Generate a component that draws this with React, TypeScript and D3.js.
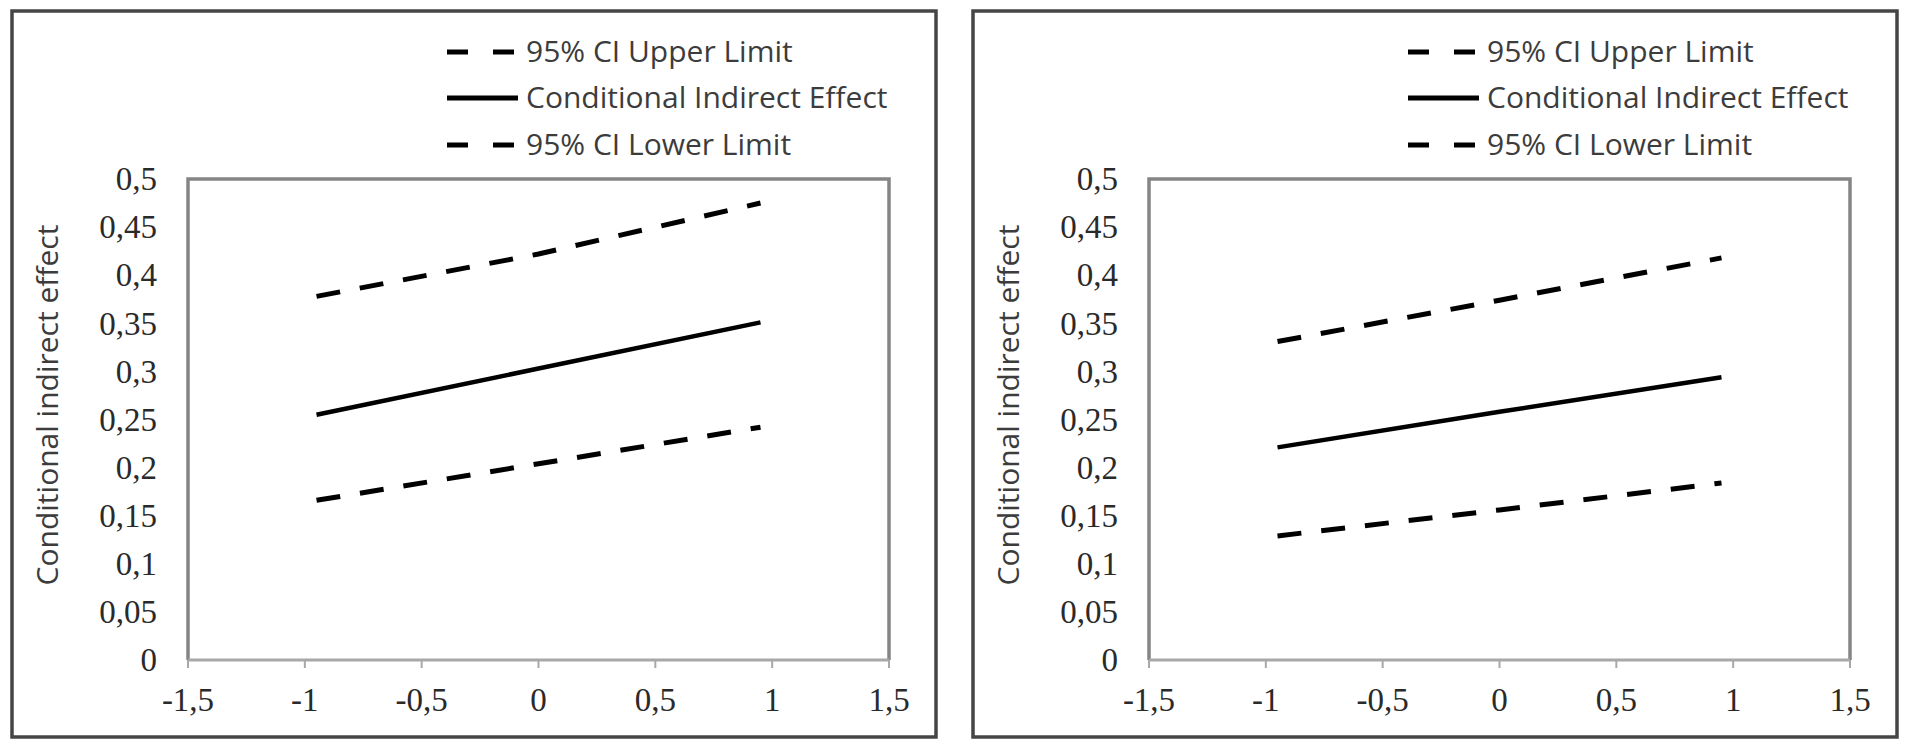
import * as d3 from 'd3';
import { FC } from 'react';

// x positions of the moderator (-1 SD, mean, +1 SD)
const moderatorValues = [-0.95, 0, 0.95];

const leftUpper = [0.378, 0.422, 0.475];
const leftEffect = [0.255, 0.303, 0.351];
const leftLower = [0.166, 0.204, 0.242];

const rightUpper = [0.331, 0.374, 0.418];
const rightEffect = [0.221, 0.258, 0.294];
const rightLower = [0.129, 0.156, 0.184];

const xTicks = [-1.5, -1, -0.5, 0, 0.5, 1, 1.5];
const xTickLabels = ['-1,5', '-1', '-0,5', '0', '0,5', '1', '1,5'];
const yTicks = [0, 0.05, 0.1, 0.15, 0.2, 0.25, 0.3, 0.35, 0.4, 0.45, 0.5];
const yTickLabels = ['0', '0,05', '0,1', '0,15', '0,2', '0,25', '0,3', '0,35', '0,4', '0,45', '0,5'];

const legendLabels = ['95% CI Upper Limit', 'Conditional Indirect Effect', '95% CI Lower Limit'];
const yTitle = 'Conditional indirect effect';

const DASH = '24 20';
const SANS = '"Open Sans", "Noto Sans", sans-serif';
const SERIF = '"Liberation Serif", "DejaVu Serif", serif';

type PanelProps = {
  offsetX: number;
  upper: number[];
  effect: number[];
  lower: number[];
};

const Panel: FC<PanelProps> = ({ offsetX, upper, effect, lower }) => {
  const x = d3.scaleLinear().domain([-1.5, 1.5]).range([188, 889]);
  const y = d3.scaleLinear().domain([0, 0.5]).range([660, 179]);

  const line = (vals: number[]) =>
    d3
      .line<number>()
      .x((_, i) => x(moderatorValues[i]))
      .y((d) => y(d))(vals) || '';

  const [x0, x1] = x.range();
  const [yBottom, yTop] = y.range();

  const series = [
    { label: legendLabels[0], dash: DASH },
    { label: legendLabels[1], dash: undefined },
    { label: legendLabels[2], dash: DASH },
  ];
  const legendRows = [52, 98, 145];

  return (
    <g transform={`translate(${offsetX},0)`}>
      <rect x={12} y={11} width={924} height={726} fill="#fff" stroke="#454545" strokeWidth={3.5} />

      {/* legend */}
      {series.map((s, i) => (
        <g key={s.label}>
          <line
            x1={447}
            x2={518}
            y1={legendRows[i]}
            y2={legendRows[i]}
            stroke="#000"
            strokeWidth={5}
            strokeDasharray={s.dash ? '21 25' : undefined}
          />
          <text x={526} y={legendRows[i] + 10} fontFamily={SANS} fontSize={30} fill="#3c3c3c">
            {s.label}
          </text>
        </g>
      ))}

      {/* plot frame */}
      <path d={`M${x0},${yBottom}V${yTop}H${x1}V${yBottom}`} fill="none" stroke="#858585" strokeWidth={3.5} />
      <line x1={x0} x2={x1} y1={yBottom} y2={yBottom} stroke="#a8a8a8" strokeWidth={3} />
      {xTicks.map((t) => (
        <line key={t} x1={x(t)} x2={x(t)} y1={yBottom} y2={yBottom + 8} stroke="#a8a8a8" strokeWidth={2} />
      ))}

      {/* tick labels */}
      {xTicks.map((t, i) => (
        <text key={t} x={x(t)} y={711} textAnchor="middle" fontFamily={SERIF} fontSize={33} fill="#2a2a2a">
          {xTickLabels[i]}
        </text>
      ))}
      {yTicks.map((t, i) => (
        <text
          key={t}
          x={157}
          y={y(t)}
          dy="0.34em"
          textAnchor="end"
          fontFamily={SERIF}
          fontSize={33}
          fill="#2a2a2a"
        >
          {yTickLabels[i]}
        </text>
      ))}

      <text
        transform="translate(58,405) rotate(-90)"
        textAnchor="middle"
        fontFamily={SANS}
        fontSize={30}
        fill="#3c3c3c"
      >
        {yTitle}
      </text>

      {/* series */}
      <path d={line(upper)} fill="none" stroke="#000" strokeWidth={5} strokeDasharray={DASH} />
      <path d={line(effect)} fill="none" stroke="#000" strokeWidth={4.5} />
      <path d={line(lower)} fill="none" stroke="#000" strokeWidth={5} strokeDasharray={DASH} />
    </g>
  );
};

const App: FC = () => {
  return (
    <div style={{ position: 'absolute', left: 0, top: 0 }}>
      <svg width={1907} height={754} style={{ display: 'block', background: '#fff' }}>
        <Panel offsetX={0} upper={leftUpper} effect={leftEffect} lower={leftLower} />
        <Panel offsetX={961} upper={rightUpper} effect={rightEffect} lower={rightLower} />
      </svg>
    </div>
  );
};

export default App;
